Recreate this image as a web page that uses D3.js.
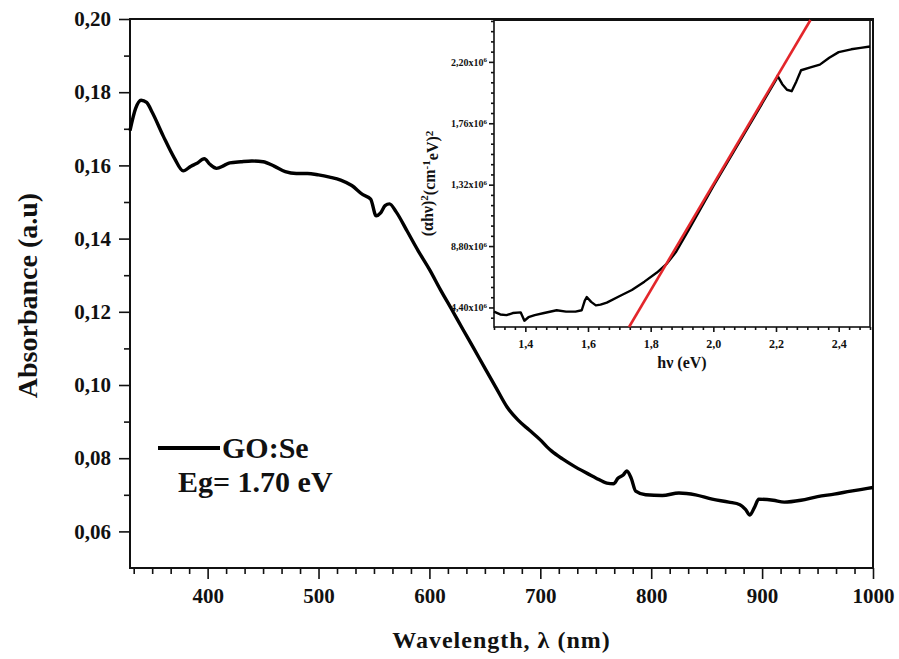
<!DOCTYPE html>
<html>
<head>
<meta charset="utf-8">
<script src="https://cdn.jsdelivr.net/npm/d3@7"></script>
<style>
  html, body { margin: 0; padding: 0; background: #fff; }
  svg { display: block; }
  text { font-family: "Liberation Serif", "Times New Roman", serif; font-weight: bold; fill: #111; }
</style>
</head>
<body>
<svg id="chart" width="899" height="659"></svg>
<script>
// UV-Vis absorbance spectrum of GO:Se
const wavelength = [330, 335, 340, 345, 350, 360, 370, 378, 385, 390, 397, 402, 408, 415, 420, 430, 440, 450, 460, 470, 480, 490, 500, 510, 520, 530, 540, 547, 552, 556, 560, 564, 570, 580, 590, 600, 610, 620, 630, 640, 650, 660, 670, 680, 690, 700, 706, 710, 720, 730, 740, 750, 760, 766, 770, 775, 778, 782, 786, 795, 810, 825, 840, 855, 870, 880, 885, 889, 893, 897, 910, 920, 935, 950, 965, 980, 990, 1000];
const absorbance = [0.1695, 0.1755, 0.1778, 0.1772, 0.1745, 0.1680, 0.1620, 0.1585, 0.1598, 0.1605, 0.1618, 0.1603, 0.1592, 0.1600, 0.1607, 0.1610, 0.1612, 0.1610, 0.1598, 0.1583, 0.1578, 0.1578, 0.1574, 0.1568, 0.1560, 0.1545, 0.1520, 0.1508, 0.1462, 0.1470, 0.1490, 0.1495, 0.1473, 0.1420, 0.1366, 0.1316, 0.1260, 0.1207, 0.1153, 0.1100, 0.1046, 0.0993, 0.0940, 0.0904, 0.0877, 0.0850, 0.0831, 0.0820, 0.0798, 0.0779, 0.0762, 0.0746, 0.0732, 0.0730, 0.0745, 0.0755, 0.0765, 0.0745, 0.0710, 0.0700, 0.0698, 0.0705, 0.0700, 0.0688, 0.0680, 0.0673, 0.0660, 0.0645, 0.0665, 0.0688, 0.0685, 0.0680, 0.0685, 0.0695, 0.0702, 0.0710, 0.0715, 0.0720];

const xTicks = [400, 500, 600, 700, 800, 900, 1000];
const yTicks = [0.06, 0.08, 0.10, 0.12, 0.14, 0.16, 0.18, 0.20];

// Tauc plot (inset): (alpha h nu)^2 in units of 1e6
const photonEnergy = [1.30, 1.32, 1.34, 1.36, 1.385, 1.39, 1.397, 1.41, 1.43, 1.46, 1.50, 1.53, 1.56, 1.58, 1.59, 1.596, 1.61, 1.625, 1.64, 1.66, 1.70, 1.74, 1.78, 1.82, 1.85, 1.88, 1.92, 1.96, 2.00, 2.05, 2.10, 2.15, 2.20, 2.205, 2.22, 2.235, 2.25, 2.265, 2.28, 2.31, 2.34, 2.37, 2.40, 2.44, 2.47, 2.50];
const taucValue = [0.41, 0.39, 0.385, 0.40, 0.405, 0.38, 0.345, 0.37, 0.385, 0.40, 0.42, 0.41, 0.41, 0.42, 0.49, 0.515, 0.48, 0.455, 0.46, 0.475, 0.52, 0.565, 0.625, 0.69, 0.75, 0.835, 0.99, 1.15, 1.31, 1.50, 1.69, 1.88, 2.07, 2.10, 2.04, 2.00, 1.99, 2.06, 2.14, 2.16, 2.18, 2.23, 2.27, 2.29, 2.30, 2.31];

// linear fit of the absorption edge
const fitEnergy = [1.731, 2.31];
const fitValue = [0.30, 2.50];

const insetXTicks = [1.4, 1.6, 1.8, 2.0, 2.2, 2.4];
const insetYTicks = [0.44, 0.88, 1.32, 1.76, 2.20];
const insetYLabels = ["4,40x10", "8,80x10", "1,32x10", "1,76x10", "2,20x10"];

const bandGap = "1.70";
const seriesName = "GO:Se";

const svg = d3.select("#chart");

// ---------- main plot ----------
const M = { left: 130, right: 873, top: 19, bottom: 568 };
const x = d3.scaleLinear().domain([330, 1000]).range([M.left, M.right]);
const y = d3.scaleLinear().domain([0.05, 0.20]).range([M.bottom, M.top]);

const comma = (v, d) => v.toFixed(d).replace(".", ",");

// minor tick positions
const xMinor = d3.range(0, 41).map(i => 1000 / 3 + i * 100 / 6)
  .filter(v => v <= 1000 && Math.abs(v / 100 - Math.round(v / 100)) > 1e-6);
const yMinor = [0.07, 0.09, 0.11, 0.13, 0.15, 0.17, 0.19];

const gx = svg.append("g").attr("transform", `translate(0,${M.bottom})`);
gx.call(d3.axisBottom(x).tickValues(xMinor).tickSize(6).tickFormat(""));
gx.call(g => g.select(".domain").remove());
const gxMaj = svg.append("g").attr("transform", `translate(0,${M.bottom})`)
  .call(d3.axisBottom(x).tickValues(xTicks).tickSize(11).tickPadding(9).tickFormat(d => d));
gxMaj.select(".domain").remove();
gxMaj.selectAll("text").attr("font-size", 21).attr("font-family", "Liberation Serif").attr("font-weight", "bold").attr("fill", "#111");

const gy = svg.append("g").attr("transform", `translate(${M.left},0)`);
gy.call(d3.axisLeft(y).tickValues(yMinor).tickSize(6).tickFormat(""));
gy.call(g => g.select(".domain").remove());
const gyMaj = svg.append("g").attr("transform", `translate(${M.left},0)`)
  .call(d3.axisLeft(y).tickValues(yTicks).tickSize(11).tickPadding(8).tickFormat(d => comma(d, 2)));
gyMaj.select(".domain").remove();
gyMaj.selectAll("text").attr("font-size", 21).attr("font-family", "Liberation Serif").attr("font-weight", "bold").attr("fill", "#111");

svg.selectAll(".tick line").attr("stroke", "#111").attr("stroke-width", 2);

// frame
svg.append("rect")
  .attr("x", M.left).attr("y", M.top)
  .attr("width", M.right - M.left).attr("height", M.bottom - M.top)
  .attr("fill", "none").attr("stroke", "#111").attr("stroke-width", 2);

// spectrum
const spectrum = wavelength.map((w, i) => [w, absorbance[i]]);
svg.append("path")
  .datum(spectrum)
  .attr("fill", "none").attr("stroke", "#000").attr("stroke-width", 3.4)
  .attr("stroke-linejoin", "round")
  .attr("d", d3.line().x(d => x(d[0])).y(d => y(d[1])).curve(d3.curveMonotoneX));

// axis titles
svg.append("text")
  .attr("x", (M.left + M.right) / 2).attr("y", 648)
  .attr("text-anchor", "middle").attr("font-size", 24).attr("letter-spacing", 1)
  .text("Wavelength, λ (nm)");
svg.append("text")
  .attr("transform", `translate(37,${(M.top + M.bottom) / 2 + 2}) rotate(-90)`)
  .attr("text-anchor", "middle").attr("font-size", 28)
  .text("Absorbance (a.u)");

// legend
svg.append("line")
  .attr("x1", 158).attr("x2", 220).attr("y1", 448).attr("y2", 448)
  .attr("stroke", "#000").attr("stroke-width", 4);
svg.append("text").attr("x", 222).attr("y", 458).attr("font-size", 30).text(seriesName);
svg.append("text").attr("x", 178).attr("y", 492).attr("font-size", 30).text(`Eg= ${bandGap} eV`);

// ---------- inset: Tauc plot ----------
const I = { left: 494, right: 870, top: 20, bottom: 327 };
const ix = d3.scaleLinear().domain([1.3, 2.5]).range([I.left, I.right]);
const iy = d3.scaleLinear().domain([0.3, 2.5]).range([I.bottom, I.top]);

svg.append("rect")
  .attr("x", I.left).attr("y", I.top)
  .attr("width", I.right - I.left).attr("height", I.bottom - I.top)
  .attr("fill", "#fff").attr("stroke", "#111").attr("stroke-width", 1.6);
svg.append("line")
  .attr("x1", I.left).attr("x2", M.right).attr("y1", I.top - 0.5).attr("y2", I.top - 0.5)
  .attr("stroke", "#111").attr("stroke-width", 3);

const ixMinor = d3.range(1.3, 2.5001, 0.2 / 6).filter(v => Math.abs(v * 5 - Math.round(v * 5)) > 1e-6);
const iyMinor = d3.range(0.44 - 0.44 / 6 * 2, 2.5, 0.44 / 6).filter(v => Math.abs(v / 0.44 - Math.round(v / 0.44)) > 1e-6 && v > 0.3);

const igx = svg.append("g").attr("transform", `translate(0,${I.bottom})`)
  .call(d3.axisBottom(ix).tickValues(ixMinor).tickSize(3).tickFormat(""));
igx.select(".domain").remove();
const igxMaj = svg.append("g").attr("transform", `translate(0,${I.bottom})`)
  .call(d3.axisBottom(ix).tickValues(insetXTicks).tickSize(5).tickPadding(7).tickFormat(d => comma(d, 1)));
igxMaj.select(".domain").remove();
igxMaj.selectAll("text").attr("font-size", 12).attr("font-family", "Liberation Serif").attr("font-weight", "bold").attr("fill", "#333");

const igy = svg.append("g").attr("transform", `translate(${I.left},0)`)
  .call(d3.axisLeft(iy).tickValues(iyMinor).tickSize(3).tickFormat(""));
igy.select(".domain").remove();
const igyMaj = svg.append("g").attr("transform", `translate(${I.left},0)`)
  .call(d3.axisLeft(iy).tickValues(insetYTicks).tickSize(5).tickPadding(6).tickFormat(""));
igyMaj.select(".domain").remove();
igyMaj.selectAll(".tick").each(function (d, i) {
  const t = d3.select(this).append("text")
    .attr("x", -7).attr("dy", "0.32em").attr("text-anchor", "end")
    .attr("font-family", "Liberation Sans, Arial, sans-serif").attr("font-weight", "normal")
    .attr("font-size", 10).attr("fill", "#333");
  t.append("tspan").text(insetYLabels[i]);
  t.append("tspan").attr("dy", "-0.45em").attr("font-size", 7).text("6");
});
svg.selectAll(".tick line").attr("stroke", "#111").attr("stroke-width", 1.6);

const tauc = photonEnergy.map((e, i) => [e, taucValue[i]]);
svg.append("path")
  .datum(tauc)
  .attr("fill", "none").attr("stroke", "#000").attr("stroke-width", 2.4)
  .attr("stroke-linejoin", "round")
  .attr("d", d3.line().x(d => ix(d[0])).y(d => iy(d[1])));

svg.append("path")
  .datum(fitEnergy.map((e, i) => [e, fitValue[i]]))
  .attr("fill", "none").attr("stroke", "#e3262b").attr("stroke-width", 2.6)
  .attr("d", d3.line().x(d => ix(d[0])).y(d => iy(d[1])));

// inset axis titles
svg.append("text")
  .attr("x", (I.left + I.right) / 2).attr("y", 368)
  .attr("text-anchor", "middle").attr("font-size", 16).attr("fill", "#222")
  .text("hν (eV)");
const iyt = svg.append("text")
  .attr("transform", `translate(433,${(I.top + I.bottom) / 2 + 10}) rotate(-90)`)
  .attr("text-anchor", "middle").attr("font-size", 16).attr("fill", "#222");
iyt.append("tspan").text("(αhν)");
iyt.append("tspan").attr("dy", "-0.45em").attr("font-size", 11).text("2");
iyt.append("tspan").attr("dy", "0.45em").text("(cm");
iyt.append("tspan").attr("dy", "-0.45em").attr("font-size", 11).text("-1");
iyt.append("tspan").attr("dy", "0.45em").text("eV)");
iyt.append("tspan").attr("dy", "-0.45em").attr("font-size", 11).text("2");
</script>
</body>
</html>
